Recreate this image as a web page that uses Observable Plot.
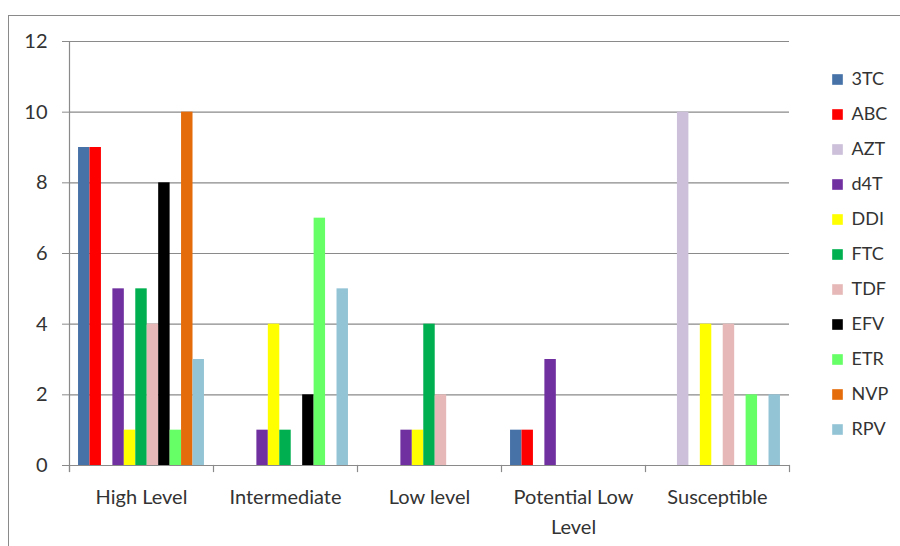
<!DOCTYPE html>
<html>
<head>
<meta charset="utf-8">
<script src="https://cdn.jsdelivr.net/npm/d3@7"></script>
<script src="https://cdn.jsdelivr.net/npm/@observablehq/plot@0.6"></script>
<style>
  body { margin: 0; background: #fff; }
  #wrap { position: relative; width: 900px; height: 546px; overflow: hidden; font-family: Lato, sans-serif; }
  #border { position: absolute; left: 8px; top: 15px; width: 920px; height: 600px; border-left: 1px solid #8a8a8a; border-top: 1px solid #8a8a8a; pointer-events: none; }
  #chart { position: absolute; left: 0; top: 0; }
  #legend { position: absolute; left: 831px; top: 0; }
</style>
</head>
<body>
<div id="wrap"><div id="border"></div><div id="chart"></div><div id="legend"></div></div>
<script>
const categories = ["High Level", "Intermediate", "Low level", "Potential Low Level", "Susceptible"];
const drugs = ["3TC", "ABC", "AZT", "d4T", "DDI", "FTC", "TDF", "EFV", "ETR", "NVP", "RPV"];
const colors = ["#4672a8", "#ff0000", "#ccc0da", "#7030a0", "#ffff00", "#00b050", "#e6b9b8", "#000000", "#66ff66", "#e46c0a", "#93c4d6"];
// values in drug order, one array per category
const highLevel    = [9, 9, 0, 5, 1, 5, 4, 8, 1, 10, 3];
const intermediate = [0, 0, 0, 1, 4, 1, 0, 2, 7, 0, 5];
const lowLevel     = [0, 0, 0, 1, 1, 4, 2, 0, 0, 0, 0];
const potentialLow = [1, 1, 0, 3, 0, 0, 0, 0, 0, 0, 0];
const susceptible  = [0, 0, 10, 0, 4, 0, 4, 0, 2, 0, 2];
const yTicks = [0, 2, 4, 6, 8, 10, 12];

const series = [highLevel, intermediate, lowLevel, potentialLow, susceptible];
const rows = [];
categories.forEach((c, i) => drugs.forEach((d, j) => {
  if (series[i][j] > 0) rows.push({category: c, drug: d, value: series[i][j]});
}));

const grey = "#8a8a8a";
const txt = "#333";

const chart = Plot.plot({
  width: 900,
  height: 546,
  marginLeft: 69,
  marginRight: 111,
  marginTop: 41,
  marginBottom: 81,
  style: {fontFamily: "Lato, sans-serif", fontSize: "20px", color: txt, background: "transparent"},
  fx: {domain: categories, padding: 0, round: false, label: null},
  x: {domain: drugs, paddingInner: 0, paddingOuter: 0.79, round: false, axis: null},
  y: {domain: [0, 12], label: null},
  color: {domain: drugs, range: colors},
  marks: [
    Plot.gridY(yTicks, {stroke: grey, strokeOpacity: 1, strokeWidth: 1.2}),
    Plot.frame({anchor: "left", facetAnchor: "left", stroke: grey, strokeWidth: 1.2, insetBottom: -6}),
    Plot.frame({anchor: "left", stroke: grey, strokeWidth: 1.2, insetTop: 424, insetBottom: -6}),
    Plot.frame({anchor: "right", facetAnchor: "right", stroke: grey, strokeWidth: 1.2, insetTop: 424, insetBottom: -6}),
    Plot.barY(rows, {fx: "category", x: "drug", y: "value", fill: "drug", inset: 0}),
    Plot.axisY(yTicks, {tickSize: 7, tickPadding: 15, stroke: grey, fill: txt, fontSize: 20, label: null}),
    Plot.axisFx({anchor: "bottom", tickSize: 0, tickPadding: 17, lineWidth: 8, lineHeight: 1.5, fontSize: 20, fill: txt, label: null})
  ]
});
document.getElementById("chart").appendChild(chart);

const legend = Plot.plot({
  width: 69,
  height: 546,
  margin: 0,
  style: {fontFamily: "Lato, sans-serif", fontSize: "17px", color: txt, background: "transparent"},
  y: {type: "point", domain: drugs, range: [77.3, 431.7], padding: 0, axis: null},
  color: {domain: drugs, range: colors},
  marks: [
    Plot.dot(drugs, {y: d => d, fill: d => d, symbol: "square", r: 6, frameAnchor: "left", dx: 6, stroke: null}),
    Plot.text(drugs, {y: d => d, text: d => d, frameAnchor: "left", dx: 20, textAnchor: "start", fill: txt, fontSize: 18})
  ]
});
document.getElementById("legend").appendChild(legend);
</script>
</body>
</html>
